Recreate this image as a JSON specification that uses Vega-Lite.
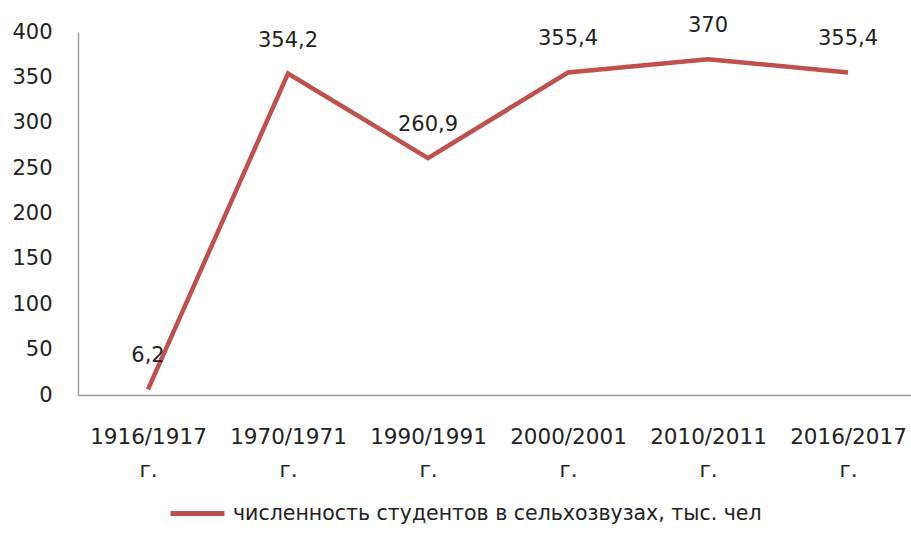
{
  "$schema": "https://vega.github.io/schema/vega-lite/v6.json",
  "autosize": "none",
  "width": 840,
  "height": 363,
  "padding": {"left": 78, "top": 32, "right": 0, "bottom": 155},
  "background": "white",
  "config": {
    "view": {"stroke": null},
    "font": "DejaVu Sans",
    "locale": {"number": {"decimal": ",", "thousands": " ", "grouping": [3], "currency": ["", ""]}}
  },
  "data": {
    "values": [
      {"year": "1916/1917 г.", "value": 6.2, "series": "численность студентов в сельхозвузах, тыс. чел"},
      {"year": "1970/1971 г.", "value": 354.2, "series": "численность студентов в сельхозвузах, тыс. чел"},
      {"year": "1990/1991 г.", "value": 260.9, "series": "численность студентов в сельхозвузах, тыс. чел"},
      {"year": "2000/2001 г.", "value": 355.4, "series": "численность студентов в сельхозвузах, тыс. чел"},
      {"year": "2010/2011 г.", "value": 370, "series": "численность студентов в сельхозвузах, тыс. чел"},
      {"year": "2016/2017 г.", "value": 355.4, "series": "численность студентов в сельхозвузах, тыс. чел"}
    ]
  },
  "encoding": {
    "x": {
      "field": "year", "type": "nominal", "sort": null,
      "scale": {"type": "point", "padding": 0.5},
      "axis": {
        "title": null, "labelAngle": 0, "ticks": false, "grid": false,
        "domainColor": "#9a9a9a", "domainWidth": 1.5,
        "labelExpr": "split(datum.label, ' ')",
        "labelFont": "DejaVu Sans", "labelFontSize": 21.5, "labelColor": "#222",
        "labelPadding": 42, "labelLineHeight": 33, "labelBaseline": "middle"
      }
    },
    "y": {
      "field": "value", "type": "quantitative",
      "scale": {"domain": [0, 400], "nice": false},
      "axis": {
        "title": null, "values": [0, 50, 100, 150, 200, 250, 300, 350, 400],
        "ticks": false, "grid": false,
        "domainColor": "#9a9a9a", "domainWidth": 1.5,
        "labelFont": "DejaVu Sans", "labelFontSize": 21, "labelColor": "#222",
        "labelPadding": 26
      }
    }
  },
  "layer": [
    {
      "mark": {"type": "line", "strokeWidth": 4.5},
      "encoding": {
        "color": {
          "field": "series", "type": "nominal",
          "scale": {"range": ["#C0504D"]},
          "legend": {
            "title": null, "orient": "none", "legendX": 90, "legendY": 452,
            "symbolType": "stroke", "symbolSize": 2916, "symbolStrokeWidth": 5,
            "labelFont": "DejaVu Sans", "labelFontSize": 20.5, "labelColor": "#222",
            "labelLimit": 800, "labelOffset": 6
          }
        }
      }
    },
    {
      "mark": {"type": "text", "dy": -33, "fontSize": 21, "font": "DejaVu Sans", "color": "#222"},
      "encoding": {"text": {"field": "value", "type": "quantitative", "format": ".4~r"}}
    }
  ]
}
